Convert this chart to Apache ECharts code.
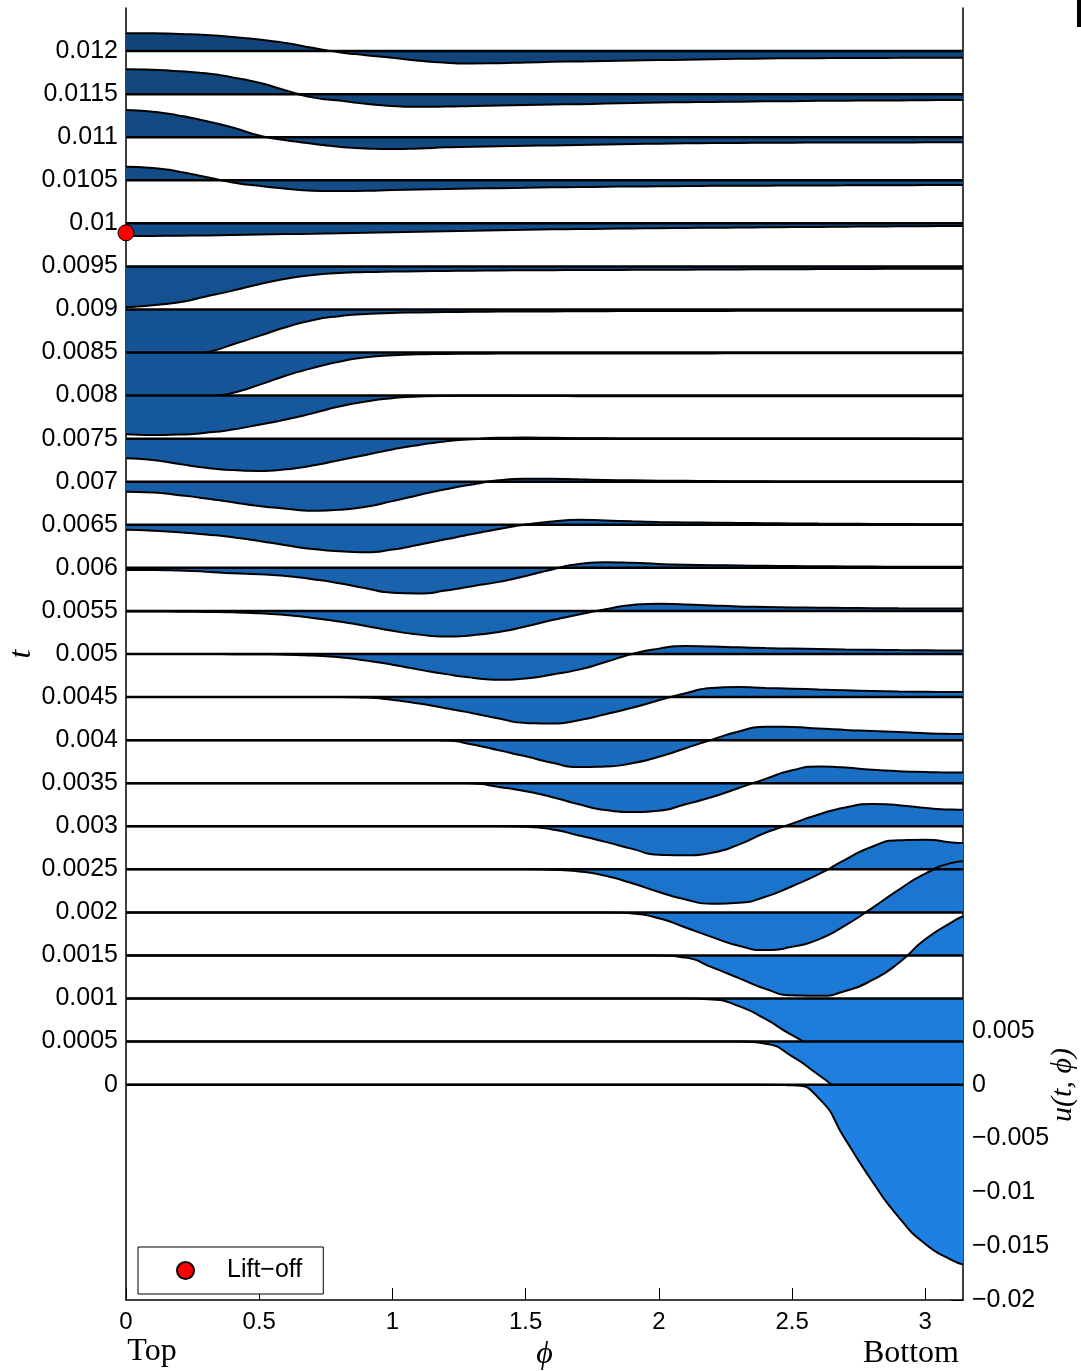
<!DOCTYPE html>
<html>
<head>
<meta charset="utf-8">
<script src="https://cdn.jsdelivr.net/npm/echarts@6/dist/echarts.min.js"></script>
<style>
html, body { margin: 0; padding: 0; background: #fff; }
#graph { width: 1081px; height: 1371px; }
</style>
</head>
<body>
<div id="graph"></div>
<script>
// angle positions where u(t, phi) was read (0 = top, pi = bottom)
var phi = [0, 0.1, 0.2, 0.3, 0.4, 0.5, 0.6, 0.7, 0.8, 0.9,
           1.0, 1.1, 1.2, 1.3, 1.4, 1.5, 1.6, 1.7, 1.8, 1.9,
           2.0, 2.1, 2.2, 2.3, 2.4, 2.5, 2.6, 2.7, 2.8, 2.9,
           3.0, 3.1, 3.1416];

// time levels (one ridge each), also the left tick labels
var tLevels = [0, 0.0005, 0.001, 0.0015, 0.002, 0.0025, 0.003, 0.0035, 0.004,
               0.0045, 0.005, 0.0055, 0.006, 0.0065, 0.007, 0.0075, 0.008,
               0.0085, 0.009, 0.0095, 0.01, 0.0105, 0.011, 0.0115, 0.012];

// u(t, phi) for every level, in units of 1e-3
var u_0000 = [0, 0, 0, 0, 0, 0, 0, 0, 0, 0,
              0, 0, 0, 0, 0, 0, 0, 0, 0, 0,
              0, 0, 0, 0, 0, -0.05, -1.25, -5.1, -8.95, -12.3,
              -14.8, -16.3, -16.7];
var u_0005 = [0, 0, 0, 0, 0, 0, 0, 0, 0, 0,
              0, 0, 0, 0, 0, 0, 0, 0, 0, 0,
              0, 0, 0, 0, -0.2, -1.37, -3.1, -4.8, -5.8, -6.5,
              -6.9, -7.0, -7.0];
var u_0010 = [0, 0, 0, 0, 0, 0, 0, 0, 0, 0,
              0, 0, 0, 0, 0, 0, 0, 0, 0, 0,
              0, 0, -0.1, -0.7, -1.9, -3.4, -4.6, -5.2, -5.5, -5.4,
              -5.0, -4.7, -4.6];
var u_0015 = [0, 0, 0, 0, 0, 0, 0, 0, 0, 0,
              0, 0, 0, 0, 0, 0, 0, 0, 0, 0,
              0, -0.2, -1.1, -2.1, -3.1, -3.7, -3.75, -3.3, -2.3, -0.7,
              1.5, 3.1, 3.64];
var u_0020 = [0, 0, 0, 0, 0, 0, 0, 0, 0, 0,
              0, 0, 0, 0, 0, 0, 0, 0, 0, -0.1,
              -0.55, -1.4, -2.3, -3.1, -3.5, -3.2, -2.5, -1.2, 0.4, 2.1,
              3.6, 4.6, 4.75];
var u_0025 = [0, 0, 0, 0, 0, 0, 0, 0, 0, 0,
              0, 0, 0, 0, 0, 0, -0.05, -0.2, -0.6, -1.3,
              -2.1, -2.8, -3.2, -3.1, -2.55, -1.57, -0.45, 0.9, 2.1, 2.7,
              2.75, 2.5, 2.45];
var u_0030 = [0, 0, 0, 0, 0, 0, 0, 0, 0, 0,
              0, 0, 0, 0, 0, -0.05, -0.3, -0.85, -1.45, -2.1,
              -2.65, -2.7, -2.45, -1.7, -0.6, 0.25, 1.1, 1.75, 2.06, 1.95,
              1.7, 1.55, 1.53];
var u_0035 = [0, 0, 0, 0, 0, 0, 0, 0, 0, 0,
              0, 0, 0, -0.03, -0.35, -0.75, -1.3, -1.95, -2.5, -2.68,
              -2.55, -1.95, -1.28, -0.45, 0.4, 1.2, 1.55, 1.45, 1.25, 1.12,
              1.05, 1.0, 1.0];
var u_0040 = [0, 0, 0, 0, 0, 0, 0, 0, 0, 0,
              0, 0, -0.04, -0.4, -0.95, -1.5, -2.1, -2.5, -2.45, -2.15,
              -1.55, -0.75, 0.05, 0.8, 1.25, 1.22, 1.08, 0.95, 0.85, 0.75,
              0.65, 0.58, 0.56];
var u_0045 = [0, 0, 0, 0, 0, 0, 0, 0, 0, -0.05,
              -0.26, -0.6, -1.03, -1.5, -2.0, -2.4, -2.45, -2.15, -1.6, -1.0,
              -0.3, 0.35, 0.85, 0.93, 0.85, 0.78, 0.7, 0.63, 0.57, 0.52,
              0.49, 0.46, 0.46];
var u_0050 = [0, 0, 0, 0, -0.02, -0.03, -0.06, -0.15, -0.3, -0.6,
              -1.0, -1.45, -1.87, -2.2, -2.4, -2.27, -1.9, -1.45, -0.75, 0,
              0.5, 0.75, 0.7, 0.62, 0.55, 0.5, 0.46, 0.42, 0.39, 0.36,
              0.34, 0.33, 0.33];
var u_0055 = [-0.05, -0.05, -0.07, -0.1, -0.13, -0.22, -0.38, -0.65, -0.98, -1.4,
              -1.85, -2.2, -2.38, -2.25, -1.95, -1.45, -0.85, -0.33, 0.15, 0.55,
              0.66, 0.6, 0.5, 0.42, 0.37, 0.33, 0.3, 0.28, 0.26, 0.24,
              0.23, 0.22, 0.22];
var u_0060 = [-0.19, -0.2, -0.25, -0.35, -0.5, -0.6, -0.75, -1.05, -1.43, -1.9,
              -2.3, -2.38, -2.11, -1.7, -1.3, -0.75, -0.15, 0.35, 0.53, 0.48,
              0.36, 0.3, 0.25, 0.22, 0.19, 0.17, 0.15, 0.13, 0.12, 0.11,
              0.1, 0.1, 0.1];
var u_0065 = [-0.47, -0.55, -0.7, -0.9, -1.15, -1.5, -1.9, -2.25, -2.45, -2.55,
              -2.3, -1.85, -1.35, -0.85, -0.4, 0.02, 0.3, 0.46, 0.4, 0.32,
              0.26, 0.22, 0.19, 0.17, 0.15, 0.13, 0.11, 0.1, 0.08, 0.07,
              0.06, 0.05, 0.05];
var u_0070 = [-0.92, -1.0, -1.25, -1.55, -1.9, -2.25, -2.5, -2.69, -2.6, -2.32,
              -1.8, -1.23, -0.7, -0.25, 0.13, 0.27, 0.28, 0.22, 0.17, 0.13,
              0.1, 0.08, 0.06, 0.05, 0.04, 0.03, 0.03, 0.02, 0.02, 0.02,
              0.02, 0.02, 0.02];
var u_0075 = [-1.82, -1.98, -2.35, -2.7, -2.92, -3.0, -2.85, -2.5, -2.0, -1.51,
              -1.0, -0.58, -0.25, -0.05, 0.08, 0.1, 0.08, 0.05, 0.03, 0.02,
              0.01, 0.01, 0.01, 0.01, 0.01, 0.01, 0.01, 0.01, 0.01, 0.01,
              0, 0, 0];
var u_0080 = [-3.59, -3.66, -3.62, -3.45, -3.15, -2.7, -2.22, -1.65, -1.02, -0.55,
              -0.24, -0.08, -0.03, -0.02, -0.02, -0.03, -0.04, -0.05, -0.05, -0.05,
              -0.05, -0.05, -0.05, -0.05, -0.05, -0.05, -0.05, -0.05, -0.05, -0.05,
              -0.05, -0.05, -0.05];
var u_0085 = [-4.6, -4.55, -4.4, -4.15, -3.75, -3.0, -2.15, -1.45, -0.85, -0.45,
              -0.25, -0.16, -0.13, -0.11, -0.1, -0.1, -0.09, -0.09, -0.08, -0.08,
              -0.08, -0.08, -0.08, -0.07, -0.07, -0.07, -0.07, -0.07, -0.07, -0.07,
              -0.07, -0.07, -0.07];
var u_0090 = [-4.6, -4.5, -4.3, -4.0, -3.26, -2.45, -1.65, -1.0, -0.62, -0.42,
              -0.32, -0.28, -0.24, -0.22, -0.2, -0.19, -0.18, -0.17, -0.16, -0.15,
              -0.15, -0.14, -0.14, -0.13, -0.13, -0.12, -0.12, -0.12, -0.11, -0.11,
              -0.11, -0.11, -0.11];
var u_0095 = [-3.78, -3.6, -3.33, -2.8, -2.25, -1.65, -1.15, -0.8, -0.62, -0.53,
              -0.48, -0.45, -0.42, -0.4, -0.38, -0.36, -0.35, -0.34, -0.33, -0.32,
              -0.31, -0.3, -0.29, -0.28, -0.27, -0.26, -0.25, -0.24, -0.23, -0.22,
              -0.22, -0.21, -0.21];
var u_0100 = [-1.18, -1.17, -1.15, -1.12, -1.08, -1.04, -1.0, -0.97, -0.93, -0.88,
              -0.83, -0.78, -0.74, -0.7, -0.65, -0.6, -0.56, -0.53, -0.5, -0.47,
              -0.45, -0.43, -0.41, -0.39, -0.37, -0.35, -0.33, -0.31, -0.3, -0.28,
              -0.27, -0.25, -0.25];
var u_0105 = [1.26, 1.15, 0.8, 0.3, -0.2, -0.52, -0.78, -0.97, -1.0, -0.97,
              -0.91, -0.86, -0.82, -0.77, -0.73, -0.7, -0.66, -0.63, -0.6, -0.58,
              -0.56, -0.54, -0.52, -0.51, -0.5, -0.49, -0.48, -0.47, -0.46, -0.46,
              -0.45, -0.44, -0.44];
var u_0110 = [2.53, 2.37, 2.0, 1.5, 0.9, 0.15, -0.28, -0.6, -0.88, -1.05,
              -1.1, -1.05, -0.94, -0.89, -0.84, -0.8, -0.76, -0.72, -0.67, -0.63,
              -0.6, -0.57, -0.55, -0.53, -0.52, -0.51, -0.5, -0.5, -0.49, -0.49,
              -0.48, -0.48, -0.48];
var u_0115 = [2.31, 2.27, 2.12, 1.93, 1.55, 1.05, 0.35, -0.3, -0.6, -0.9,
              -1.1, -1.17, -1.15, -1.1, -1.05, -1.01, -0.97, -0.93, -0.88, -0.83,
              -0.78, -0.75, -0.72, -0.7, -0.67, -0.65, -0.62, -0.61, -0.59, -0.58,
              -0.56, -0.55, -0.55];
var u_0120 = [1.65, 1.65, 1.58, 1.5, 1.3, 1.07, 0.75, 0.3, -0.1, -0.38,
              -0.62, -0.9, -1.08, -1.15, -1.12, -1.06, -1.0, -0.96, -0.92, -0.88,
              -0.84, -0.8, -0.76, -0.72, -0.69, -0.67, -0.66, -0.65, -0.64, -0.63,
              -0.62, -0.62, -0.62];

var uCurves = [u_0000, u_0005, u_0010, u_0015, u_0020, u_0025, u_0030, u_0035,
               u_0040, u_0045, u_0050, u_0055, u_0060, u_0065, u_0070, u_0075,
               u_0080, u_0085, u_0090, u_0095, u_0100, u_0105, u_0110, u_0115,
               u_0120];

// tick labels
var uTicks = [-0.02, -0.015, -0.01, -0.005, 0, 0.005];
var phiTicks = [0, 0.5, 1, 1.5, 2, 2.5, 3];

// lift-off point (phi, t)
var liftOff = [0, 0.00989];

// axis ranges, the right axis is the left one scaled by 8
var tMin = -0.0025, tMax = 0.0125;
var uMin = -0.02, uMax = 0.1;
var uToT = (tMax - tMin) / (uMax - uMin);

// fill colour goes from light blue (t = 0) to dark blue (last t)
var lightBlue = [30, 128, 226];
var darkBlue = [17, 68, 122];
function levelColor(i) {
    var f = i / (tLevels.length - 1);
    var c = lightBlue.map(function (v, k) {
        return Math.round(v + (darkBlue[k] - v) * f);
    });
    return 'rgb(' + c.join(',') + ')';
}

function fmt(v) {
    var s = Number(v.toFixed(4)).toString();
    return v < 0 ? '\u2212' + s.slice(1) : s;
}

var series = [];

// ridges, the top ones first so the lower ones lie over them
for (var i = tLevels.length - 1; i >= 0; i--) {
    var t = tLevels[i];
    var u = uCurves[i];
    series.push({
        type: 'line',
        smooth: 0.6,
        symbol: 'none',
        silent: true,
        z: 10 + (tLevels.length - i),
        data: phi.map(function (p, j) { return [p, t + uToT * u[j] * 1e-3]; }),
        lineStyle: { color: '#000', width: 2 },
        areaStyle: { color: levelColor(i), opacity: 1, origin: t }
    });
}

// base line of every level drawn above all ridges
tLevels.forEach(function (t) {
    series.push({
        type: 'line',
        symbol: 'none',
        silent: true,
        z: 50,
        data: [[0, t], [Math.PI, t]],
        lineStyle: { color: '#000', width: 2.5 }
    });
});

series.push({
    type: 'scatter',
    name: 'Lift-off',
    data: [liftOff],
    symbolSize: 16,
    clip: false,
    z: 60,
    itemStyle: { color: '#ff0000', borderColor: '#000', borderWidth: 1, opacity: 1 }
});

var labelFont = { fontFamily: 'Liberation Sans', fontSize: 25, color: '#000' };
var serifName = { fontFamily: '"Liberation Serif", "DejaVu Serif"', fontStyle: 'italic', fontSize: 32, color: '#000' };

var chart = echarts.init(document.getElementById('graph'), null, { renderer: 'canvas' });

var option = {
    animation: false,
    backgroundColor: '#fff',
    grid: { left: 126, right: 118, top: 8, bottom: 71, outerBoundsMode: 'none' },
    legend: {
        data: ['Lift-off'],
        left: 138,
        top: 1247,
        icon: 'circle',
        itemWidth: 17,
        itemHeight: 17,
        backgroundColor: '#fff',
        borderColor: '#000',
        borderWidth: 1,
        borderRadius: 0,
        padding: [11, 21, 11, 38],
        selectedMode: false,
        formatter: function () { return 'Lift\u2212off'; },
        textStyle: { fontFamily: 'Liberation Sans', fontSize: 25, color: '#000', padding: [0, 0, 0, 28] }
    },
    xAxis: {
        type: 'value',
        min: 0,
        max: Math.PI,
        interval: 0.5,
        name: '\u03d5',
        nameLocation: 'middle',
        nameGap: 38,
        nameTextStyle: serifName,
        splitLine: { show: false },
        axisLine: { onZero: false, lineStyle: { color: '#000', width: 1.5 } },
        axisTick: { inside: true, length: 12, customValues: phiTicks, lineStyle: { color: '#000', width: 1 } },
        axisLabel: Object.assign({ margin: 10, customValues: phiTicks }, labelFont, { fontSize: 24 })
    },
    yAxis: [{
        type: 'value',
        position: 'left',
        min: tMin,
        max: tMax,
        interval: 0.0005,
        name: 't',
        nameLocation: 'middle',
        nameRotate: 90,
        nameGap: 88,
        nameMoveOverlap: false,
        nameTextStyle: serifName,
        splitLine: { show: false },
        axisLine: { show: true, onZero: false, lineStyle: { color: '#000', width: 1.5 } },
        axisTick: { show: true, inside: true, length: 12, customValues: tLevels, lineStyle: { color: '#000' } },
        axisLabel: Object.assign({ margin: 8, customValues: tLevels, formatter: fmt }, labelFont)
    }, {
        type: 'value',
        position: 'right',
        min: uMin,
        max: uMax,
        interval: 0.005,
        splitLine: { show: false },
        axisLine: { show: true, onZero: false, lineStyle: { color: '#000', width: 1.5 } },
        axisTick: { show: true, inside: true, length: 12, customValues: uTicks, lineStyle: { color: '#000' } },
        axisLabel: Object.assign({ margin: 9, customValues: uTicks, formatter: fmt }, labelFont)
    }],
    graphic: [{
        type: 'text',
        x: 1063,
        y: 1085,
        rotation: Math.PI / 2,
        style: {
            text: 'u(t, \u03d5)',
            font: 'italic 30px "Liberation Serif", "DejaVu Serif"',
            fill: '#000',
            textAlign: 'center',
            textVerticalAlign: 'middle'
        }
    }, {
        type: 'text',
        x: 152,
        y: 1352,
        style: { text: 'Top', font: '32px "Liberation Serif"', fill: '#000', textAlign: 'center', textVerticalAlign: 'middle' }
    }, {
        type: 'text',
        x: 911,
        y: 1354,
        style: { text: 'Bottom', font: '32px "Liberation Serif"', fill: '#000', textAlign: 'center', textVerticalAlign: 'middle' }
    }, {
        type: 'rect',
        shape: { x: 1077, y: 0, width: 4, height: 27 },
        style: { fill: '#000' }
    }],
    series: series
};

chart.setOption(option);
</script>
</body>
</html>
